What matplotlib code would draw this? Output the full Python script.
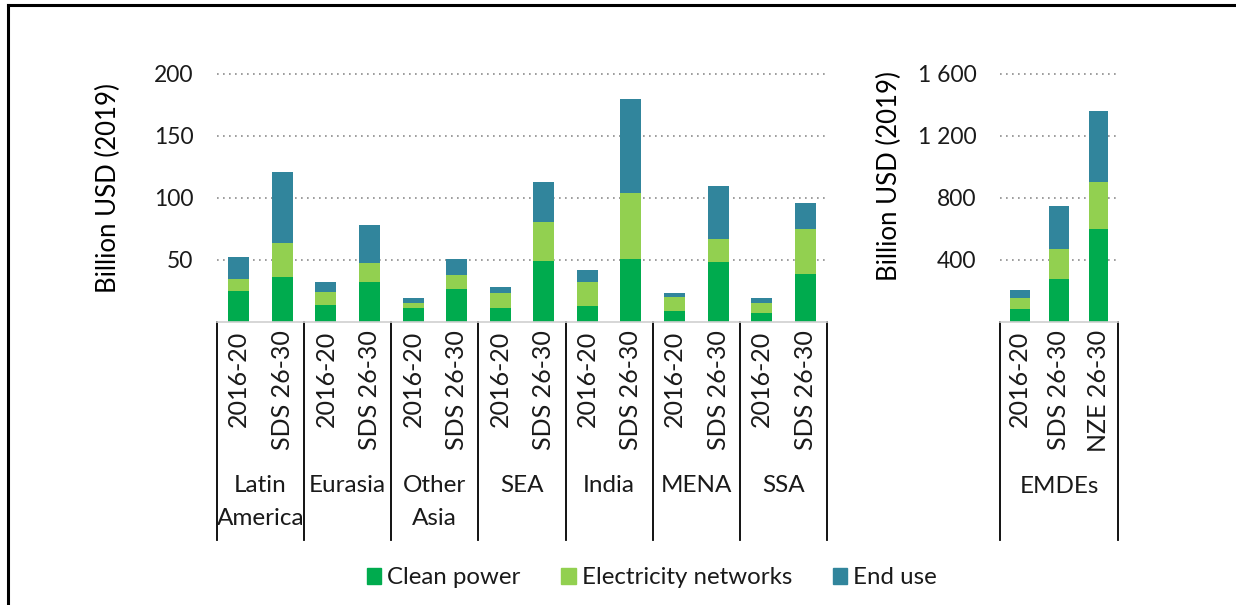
import numpy as np
import matplotlib
matplotlib.use("Agg")
import matplotlib.pyplot as plt
from matplotlib.lines import Line2D
from matplotlib.patches import Patch
from matplotlib.ticker import FuncFormatter
import matplotlib.transforms as mtransforms

plt.rcParams['font.family'] = ['Lato', 'DejaVu Sans']
plt.rcParams['text.color'] = '#1a1a1a'

# regional data (billion USD 2019)
regions = ["Latin\nAmerica", "Eurasia", "Other\nAsia", "SEA", "India", "MENA", "SSA"]
periods = ["2016-20", "SDS 26-30"]
clean_power = [25, 36, 13.4, 32, 11, 26.6, 11.5, 49, 12.9, 51, 8.9, 48.4, 7, 39]
networks = [10, 28, 11, 15.3, 4, 11, 11.5, 31.4, 19.6, 53.3, 11.5, 18.8, 8, 36.3]
end_use = [17.7, 56.7, 7.6, 30.7, 4, 13.2, 5, 32.2, 9.5, 75.3, 3.2, 42.5, 4, 21]

# EMDEs total
emde_periods = ["2016-20", "SDS 26-30", "NZE 26-30"]
emde_clean = [86, 279, 601]
emde_networks = [72, 194, 305]
emde_end_use = [50, 275, 456]

c_clean = "#00AB4E"
c_net = "#92D050"
c_end = "#31859C"

fig = plt.figure(figsize=(12.36, 6.05), dpi=100)
H = 605.0
W = 1236.0
bottom = 1 - 322 / H
height = (322 - 74) / H
ax1 = fig.add_axes([217 / W, bottom, 610 / W, height])
ax2 = fig.add_axes([1000 / W, bottom, 118 / W, height])


def style(ax, ymax, ticks, fmt, grid_x1):
    ax.set_ylim(0, ymax)
    ax.set_yticks(ticks)
    ax.yaxis.set_major_formatter(FuncFormatter(fmt))
    ax.tick_params(axis='y', length=0, pad=17, labelsize=16.5, labelcolor='#1a1a1a')
    ax.tick_params(axis='x', length=0, pad=6, labelsize=18, labelcolor='#1a1a1a')
    for s in ["top", "right", "left"]:
        ax.spines[s].set_visible(False)
    ax.spines["bottom"].set_color("#d0d0d0")
    ax.spines["bottom"].set_linewidth(1.2)
    for t in ticks:
        ax.plot([0, grid_x1], [t, t], color="#8c8c8c", lw=1.2,
                linestyle=(0, (1, 2.6)), zorder=1, clip_on=False)
    ax.set_ylabel("Billion USD (2019)", fontsize=18.5)


# left panel
x = np.arange(len(clean_power)) + 0.5
b1 = np.array(clean_power)
b2 = b1 + np.array(networks)
ax1.bar(x, clean_power, width=0.48, color=c_clean, zorder=2)
ax1.bar(x, networks, width=0.48, bottom=b1, color=c_net, zorder=2)
ax1.bar(x, end_use, width=0.48, bottom=b2, color=c_end, zorder=2)
ax1.set_xlim(0, len(clean_power))
style(ax1, 200, [50, 100, 150, 200], lambda v, p: f"{v:.0f}", len(clean_power) - 0.05)
ax1.set_xticks(x, periods * len(regions), rotation=90)
ax1.yaxis.set_label_coords(-0.157, 0.54)

tr1 = mtransforms.blended_transform_factory(ax1.transData, ax1.transAxes)
for k in range(len(regions) + 1):
    ax1.plot([2 * k, 2 * k], [0, -0.88], color="black", lw=1.3,
             transform=tr1, clip_on=False)
for k, r in enumerate(regions):
    ax1.text(2 * k + 1, -0.615, r, transform=tr1, ha="center", va="top",
             fontsize=17.5, linespacing=1.72)

# right panel
xe = np.arange(len(emde_clean)) + 0.5
e1 = np.array(emde_clean)
e2 = e1 + np.array(emde_networks)
ax2.bar(xe, emde_clean, width=0.5, color=c_clean, zorder=2)
ax2.bar(xe, emde_networks, width=0.5, bottom=e1, color=c_net, zorder=2)
ax2.bar(xe, emde_end_use, width=0.5, bottom=e2, color=c_end, zorder=2)
ax2.set_xlim(0, len(emde_clean))
style(ax2, 1600, [400, 800, 1200, 1600],
      lambda v, p: f"{v:,.0f}".replace(",", " "), len(emde_clean) - 0.05)
ax2.set_xticks(xe, emde_periods, rotation=90)
ax2.yaxis.set_label_coords(-0.83, 0.59)

tr2 = mtransforms.blended_transform_factory(ax2.transData, ax2.transAxes)
for k in [0, len(emde_clean)]:
    ax2.plot([k, k], [0, -0.88], color="black", lw=1.3,
             transform=tr2, clip_on=False)
ax2.text(1.5, -0.62, "EMDEs", transform=tr2, ha="center", va="top", fontsize=17.5)

# legend
handles = [Patch(color=c_clean, label="Clean power"),
           Patch(color=c_net, label="Electricity networks"),
           Patch(color=c_end, label="End use")]
fig.legend(handles=handles, loc="center", bbox_to_anchor=(652 / W, 1 - 578 / H),
           ncol=3, frameon=False, fontsize=17.3, handlelength=0.6,
           handleheight=0.6, handletextpad=0.25, columnspacing=1.7)

# page frame (top and left rule)
fig.add_artist(Line2D([8 / W, 1], [1 - 5 / H, 1 - 5 / H], color="black", lw=2.2))
fig.add_artist(Line2D([8 / W, 8 / W], [0, 1 - 5 / H], color="black", lw=2.2))

fig.savefig("out.png", dpi=100)
